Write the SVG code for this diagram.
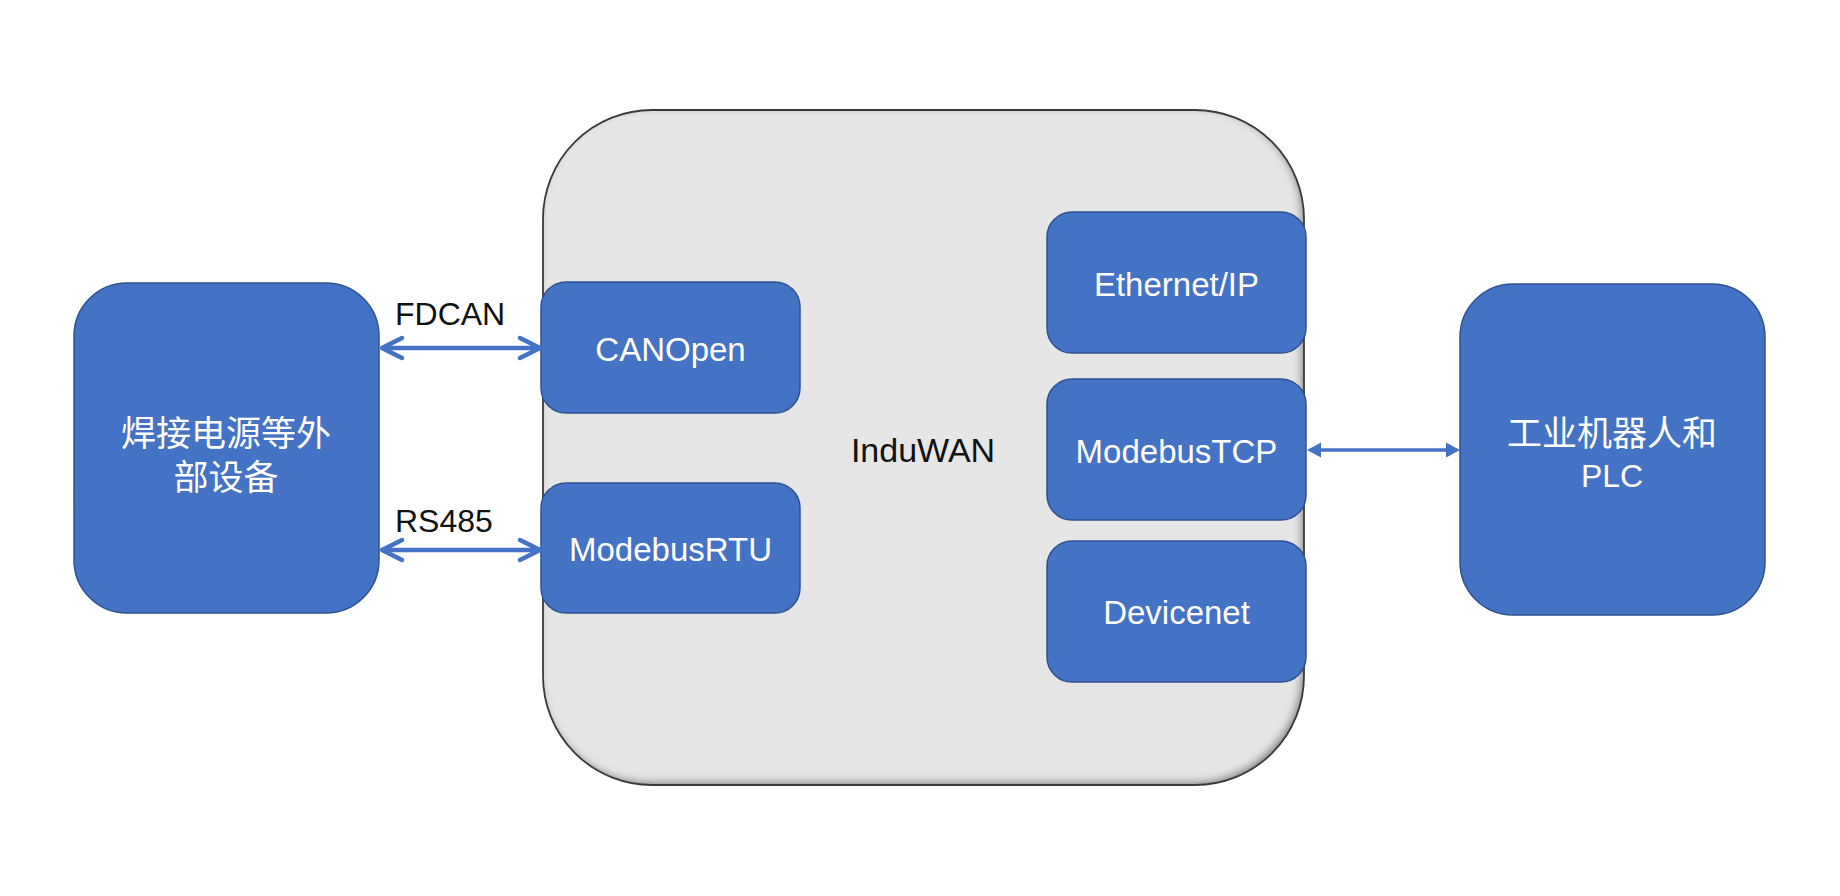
<svg xmlns="http://www.w3.org/2000/svg" width="1840" height="896" viewBox="0 0 1840 896">
  <defs>
    <style>
      .blue { fill: #4472C4; stroke: #2F528F; stroke-width: 1.5; }
      .wlabel { fill: #FFFFFF; font-family: "Liberation Sans", "Noto Sans CJK SC", sans-serif; font-size: 33px; text-anchor: middle; }
      .cjk { fill: #FFFFFF; font-family: "Liberation Sans", "Noto Sans CJK SC", sans-serif; font-size: 35px; text-anchor: middle; }
      .blabel { fill: #111111; font-family: "Liberation Sans", sans-serif; font-size: 32px; }
      .conn { stroke: #4472C4; fill: none; }
    </style>
    <filter id="inset" x="-5%" y="-5%" width="110%" height="110%">
      <feComponentTransfer in="SourceAlpha" result="inv">
        <feFuncA type="table" tableValues="1 0"/>
      </feComponentTransfer>
      <feGaussianBlur in="inv" stdDeviation="4.5" result="blur"/>
      <feOffset in="blur" dx="-3.5" dy="-3" result="off"/>
      <feComposite in="off" in2="SourceAlpha" operator="in" result="shadowMask"/>
      <feFlood flood-color="#000000" flood-opacity="0.75" result="col"/>
      <feComposite in="col" in2="shadowMask" operator="in" result="shadow"/>
      <feMerge>
        <feMergeNode in="SourceGraphic"/>
        <feMergeNode in="shadow"/>
      </feMerge>
    </filter>
    <marker id="openHead" markerUnits="userSpaceOnUse" markerWidth="32" markerHeight="32" viewBox="-26 -16 32 32" refX="0" refY="0" orient="auto-start-reverse">
      <path d="M-20,-10 L0,0 L-20,10" fill="none" stroke="#4472C4" stroke-width="4.5" stroke-linecap="round" stroke-linejoin="round"/>
    </marker>
    <marker id="solidHead" markerUnits="userSpaceOnUse" markerWidth="20" markerHeight="20" viewBox="-16 -10 20 20" refX="-3" refY="0" orient="auto-start-reverse">
      <path d="M-14,-7.5 L0,0 L-14,7.5 Z" fill="#4472C4"/>
    </marker>
  </defs>

  <rect width="1840" height="896" fill="#FFFFFF"/>

  <g id="induwan">
    <rect x="543" y="110" width="761" height="675" rx="109" ry="109" fill="#E6E6E6" filter="url(#inset)"/>
    <rect x="543" y="110" width="761" height="675" rx="109" ry="109" fill="none" stroke="#3A3A3A" stroke-width="1.8"/>
    <text x="923" y="462" class="blabel" text-anchor="middle" style="font-size:34px">InduWAN</text>
  </g>

  <g id="external-device">
    <rect class="blue" x="74" y="283" width="305" height="330" rx="53" ry="53"/>
    <text class="cjk" x="226" y="446">焊接电源等外</text>
    <text class="cjk" x="226" y="490">部设备</text>
  </g>

  <g id="robot-plc">
    <rect class="blue" x="1460" y="284" width="305" height="331" rx="53" ry="53"/>
    <text class="cjk" x="1612" y="446">工业机器人和</text>
    <text class="wlabel" x="1612" y="487" style="font-size:32px">PLC</text>
  </g>

  <g id="canopen">
    <rect class="blue" x="541" y="282" width="259" height="131" rx="25" ry="25"/>
    <text class="wlabel" x="670.5" y="361">CANOpen</text>
  </g>

  <g id="modebusrtu">
    <rect class="blue" x="541" y="483" width="259" height="130" rx="25" ry="25"/>
    <text class="wlabel" x="670.5" y="561">ModebusRTU</text>
  </g>

  <g id="ethernetip">
    <rect class="blue" x="1047" y="212" width="259" height="141" rx="25" ry="25"/>
    <text class="wlabel" x="1176.5" y="296">Ethernet/IP</text>
  </g>

  <g id="modebustcp">
    <rect class="blue" x="1047" y="379" width="259" height="141" rx="25" ry="25"/>
    <text class="wlabel" x="1176.5" y="463">ModebusTCP</text>
  </g>

  <g id="devicenet">
    <rect class="blue" x="1047" y="541" width="259" height="141" rx="25" ry="25"/>
    <text class="wlabel" x="1176.5" y="624">Devicenet</text>
  </g>

  <g id="connectors">
    <line class="conn" x1="382" y1="348" x2="540" y2="348" stroke-width="4.5" marker-start="url(#openHead)" marker-end="url(#openHead)"/>
    <text class="blabel" x="395" y="325">FDCAN</text>
    <line class="conn" x1="382" y1="550" x2="540" y2="550" stroke-width="4.5" marker-start="url(#openHead)" marker-end="url(#openHead)"/>
    <text class="blabel" x="395" y="532">RS485</text>
    <line class="conn" x1="1310" y1="450" x2="1457" y2="450" stroke-width="3.5" marker-start="url(#solidHead)" marker-end="url(#solidHead)"/>
  </g>
</svg>
